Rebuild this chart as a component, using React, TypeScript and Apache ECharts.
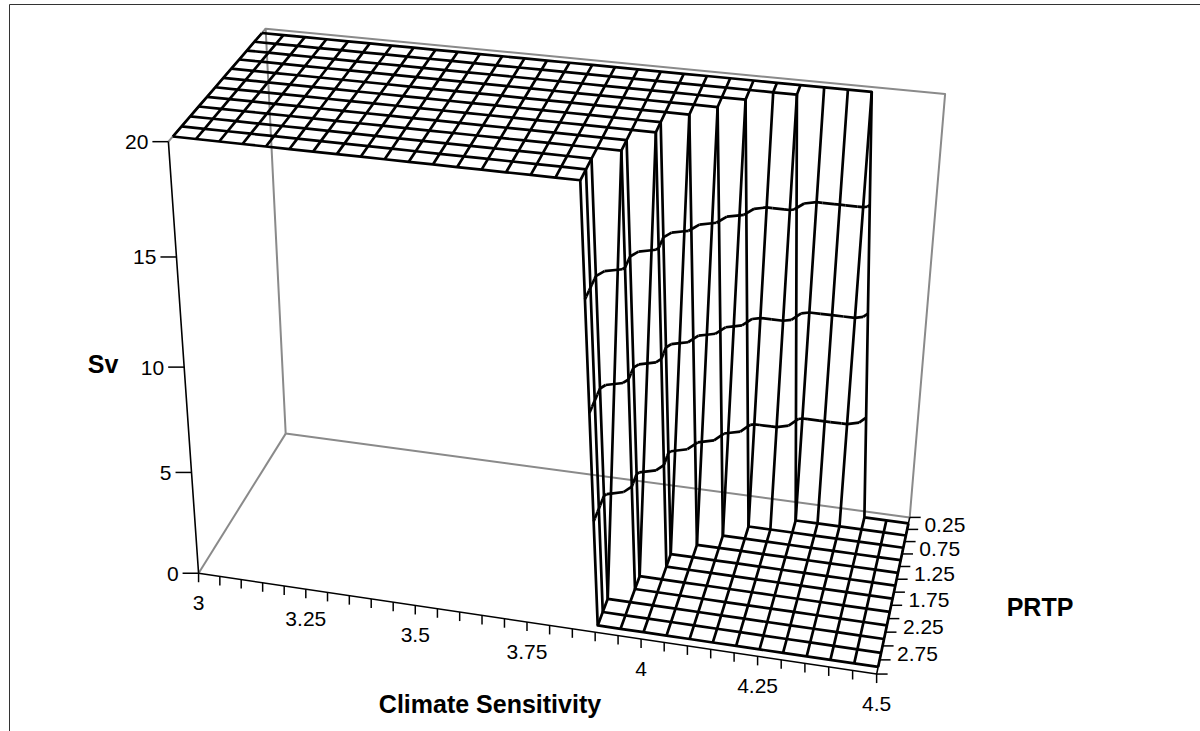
import { useEffect, useRef } from 'react';
import * as echarts from 'echarts';

type V3 = [number, number, number];

// Climate sensitivity categories (front axis)
const climateSensitivity = [
  3, 3.05, 3.1, 3.15, 3.2, 3.25, 3.3, 3.35, 3.4, 3.45,
  3.5, 3.55, 3.6, 3.65, 3.7, 3.75, 3.8, 3.85, 3.9, 3.95,
  4, 4.05, 4.1, 4.15, 4.2, 4.25, 4.3, 4.35, 4.4, 4.45, 4.5,
];
// PRTP series (depth axis), back to front
const prtp = [0.25, 0.5, 0.75, 1, 1.25, 1.5, 1.75, 2, 2.25, 2.5, 2.75, 3];

const svTicks = [0, 5, 10, 15, 20];
const csTickLabels = [3, 3.25, 3.5, 3.75, 4, 4.25, 4.5];
const prtpTickLabels = [0.25, 0.75, 1.25, 1.75, 2.25, 2.75];
const contourLevels = [5, 10, 15];

// Sv per PRTP row, one value per climate sensitivity
const svPrtp025 = [20, 20, 20, 20, 20, 20, 20, 20, 20, 20, 20, 20, 20, 20, 20, 20, 20, 20, 20, 20, 20, 20, 20, 20, 20, 20, 20, 20, 0, 0, 0];
const svPrtp050 = [20, 20, 20, 20, 20, 20, 20, 20, 20, 20, 20, 20, 20, 20, 20, 20, 20, 20, 20, 20, 20, 20, 20, 20, 20, 0, 0, 0, 0, 0, 0];
const svPrtp075 = [20, 20, 20, 20, 20, 20, 20, 20, 20, 20, 20, 20, 20, 20, 20, 20, 20, 20, 20, 20, 20, 20, 20, 0, 0, 0, 0, 0, 0, 0, 0];
const svPrtp100 = [20, 20, 20, 20, 20, 20, 20, 20, 20, 20, 20, 20, 20, 20, 20, 20, 20, 20, 20, 20, 20, 20, 0, 0, 0, 0, 0, 0, 0, 0, 0];
const svPrtp125 = [20, 20, 20, 20, 20, 20, 20, 20, 20, 20, 20, 20, 20, 20, 20, 20, 20, 20, 20, 20, 20, 0, 0, 0, 0, 0, 0, 0, 0, 0, 0];
const svPrtp150 = [20, 20, 20, 20, 20, 20, 20, 20, 20, 20, 20, 20, 20, 20, 20, 20, 20, 20, 20, 20, 0, 0, 0, 0, 0, 0, 0, 0, 0, 0, 0];
const svPrtp175 = [20, 20, 20, 20, 20, 20, 20, 20, 20, 20, 20, 20, 20, 20, 20, 20, 20, 20, 20, 20, 0, 0, 0, 0, 0, 0, 0, 0, 0, 0, 0];
const svPrtp200 = [20, 20, 20, 20, 20, 20, 20, 20, 20, 20, 20, 20, 20, 20, 20, 20, 20, 20, 20, 0, 0, 0, 0, 0, 0, 0, 0, 0, 0, 0, 0];
const svPrtp225 = [20, 20, 20, 20, 20, 20, 20, 20, 20, 20, 20, 20, 20, 20, 20, 20, 20, 20, 20, 0, 0, 0, 0, 0, 0, 0, 0, 0, 0, 0, 0];
const svPrtp250 = [20, 20, 20, 20, 20, 20, 20, 20, 20, 20, 20, 20, 20, 20, 20, 20, 20, 20, 0, 0, 0, 0, 0, 0, 0, 0, 0, 0, 0, 0, 0];
const svPrtp275 = [20, 20, 20, 20, 20, 20, 20, 20, 20, 20, 20, 20, 20, 20, 20, 20, 20, 20, 0, 0, 0, 0, 0, 0, 0, 0, 0, 0, 0, 0, 0];
const svPrtp300 = [20, 20, 20, 20, 20, 20, 20, 20, 20, 20, 20, 20, 20, 20, 20, 20, 20, 20, 0, 0, 0, 0, 0, 0, 0, 0, 0, 0, 0, 0, 0];

const svRows = [
  svPrtp025, svPrtp050, svPrtp075, svPrtp100, svPrtp125, svPrtp150,
  svPrtp175, svPrtp200, svPrtp225, svPrtp250, svPrtp275, svPrtp300,
];

const csMin = 3;
const csMax = 4.5;
const svMax = 20;

// where the unit box (x: sensitivity, y: depth front->back, z: Sv) lands on the page
const boxAnchors: [V3, [number, number]][] = [
  [[0, 0, 0], [198, 572]],
  [[1 / 6, 0, 0], [306, 590]],
  [[1 / 3, 0, 0], [415, 608]],
  [[0.5, 0, 0], [524, 627]],
  [[1, 0, 0], [877, 670]],
  [[0, 1, 0], [288, 432]],
  [[1, 1, 0], [910, 517]],
  [[0, 0, 1], [170, 140]],
  [[0, 1, 1], [262, 30]],
  [[1, 1, 1], [946, 95]],
  [[0, 0, 0.25], [191, 472]],
  [[0, 0, 0.5], [185, 366]],
  [[0, 0, 0.75], [178, 257]],
];

// least-squares perspective camera (3x4, last term fixed to 1)
function solveCamera(): number[] {
  const n = 11;
  const M = Array.from({ length: n }, () => new Array(n + 1).fill(0));
  const addRow = (a: number[], b: number) => {
    for (let i = 0; i < n; i++) {
      for (let j = 0; j < n; j++) M[i][j] += a[i] * a[j];
      M[i][n] += a[i] * b;
    }
  };
  boxAnchors.forEach(([[X, Y, Z], [u, v]]) => {
    addRow([X, Y, Z, 1, 0, 0, 0, 0, -u * X, -u * Y, -u * Z], u);
    addRow([0, 0, 0, 0, X, Y, Z, 1, -v * X, -v * Y, -v * Z], v);
  });
  for (let c = 0; c < n; c++) {
    let p = c;
    for (let r = c + 1; r < n; r++) if (Math.abs(M[r][c]) > Math.abs(M[p][c])) p = r;
    [M[c], M[p]] = [M[p], M[c]];
    for (let r = 0; r < n; r++) {
      if (r === c) continue;
      const f = M[r][c] / M[c][c];
      for (let k = c; k <= n; k++) M[r][k] -= f * M[c][k];
    }
  }
  return M.map((row, i) => row[n] / row[i]);
}

const cam = solveCamera();
const project = ([X, Y, Z]: V3): [number, number] => {
  const w = cam[8] * X + cam[9] * Y + cam[10] * Z + 1;
  return [
    (cam[0] * X + cam[1] * Y + cam[2] * Z + cam[3]) / w,
    (cam[4] * X + cam[5] * Y + cam[6] * Z + cam[7]) / w,
  ];
};

const csAt = (i: number) => {
  const k = Math.min(Math.floor(i), climateSensitivity.length - 2);
  const t = i - k;
  return climateSensitivity[k] + t * (climateSensitivity[k + 1] - climateSensitivity[k]);
};
const depthOf = (r: number) => 1 - (r + 0.5) / prtp.length;
const boxPoint = (i: number, r: number, sv: number): V3 => [
  (csAt(i) - csMin) / (csMax - csMin),
  depthOf(r),
  sv / svMax,
];

// wireframe mesh
const meshLines: V3[][] = [
  ...svRows.map((row, r) => row.map((v, i) => boxPoint(i, r, v))),
  ...climateSensitivity.map((_, i) => svRows.map((row, r) => boxPoint(i, r, row[i]))),
];

// band boundaries, each cell split in four triangles around its mean
function contourLines(): V3[][] {
  const out: V3[][] = [];
  for (let r = 0; r < svRows.length - 1; r++) {
    for (let i = 0; i < climateSensitivity.length - 1; i++) {
      const a = { i, r, v: svRows[r][i] };
      const b = { i: i + 1, r, v: svRows[r][i + 1] };
      const c = { i: i + 1, r: r + 1, v: svRows[r + 1][i + 1] };
      const d = { i, r: r + 1, v: svRows[r + 1][i] };
      if (a.v === b.v && b.v === c.v && c.v === d.v) continue;
      const m = { i: i + 0.5, r: r + 0.5, v: (a.v + b.v + c.v + d.v) / 4 };
      const tris = [[a, b, m], [b, c, m], [c, d, m], [d, a, m]];
      contourLevels.forEach((lv) => {
        tris.forEach((tri) => {
          const pts: V3[] = [];
          for (let e = 0; e < 3; e++) {
            const p = tri[e];
            const q = tri[(e + 1) % 3];
            if ((p.v >= lv) !== (q.v >= lv)) {
              const t = (lv - p.v) / (q.v - p.v);
              pts.push(boxPoint(p.i + t * (q.i - p.i), p.r + t * (q.r - p.r), lv));
            }
          }
          if (pts.length === 2) {
            const dd = Math.abs(pts[0][0] - pts[1][0]) + Math.abs(pts[0][1] - pts[1][1]);
            if (dd > 1e-9) out.push(pts);
          }
        });
      });
    }
  }
  return out;
}

const frameLines: V3[][] = [
  [[0, 1, 0], [1, 1, 0], [1, 1, 1], [0, 1, 1], [0, 1, 0]],
  [[0, 0, 0], [0, 1, 0]],
  [[0, 0, 1], [0, 1, 1]],
];
const axisLines: V3[][] = [[[0, 0, 1], [0, 0, 0], [1, 0, 0], [1, 1, 0]]];

type Tick = { at: V3; dx: number; dy: number };
const ticks: Tick[] = [
  ...svTicks.map((v) => ({ at: [0, 0, v / svMax] as V3, dx: -16, dy: 0 })),
  ...climateSensitivity.map((c) => ({ at: [(c - csMin) / (csMax - csMin), 0, 0] as V3, dx: 0, dy: 9 })),
  ...Array.from({ length: prtp.length + 1 }, (_, k) => ({ at: [1, 1 - k / prtp.length, 0] as V3, dx: 11, dy: 0 })),
];

type Label = { at: V3; dx: number; dy: number; text: string; align: string };
const labels: Label[] = [
  ...svTicks.map((v) => ({ at: [0, 0, v / svMax] as V3, dx: -20, dy: 0, text: String(v), align: 'right' })),
  ...csTickLabels.map((c) => ({ at: [(c - csMin) / (csMax - csMin), 0, 0] as V3, dx: 0, dy: 29, text: String(c), align: 'center' })),
  ...prtpTickLabels.map((p) => ({ at: [1, depthOf(prtp.indexOf(p)), 0] as V3, dx: 16, dy: 1, text: String(p), align: 'left' })),
];

const font = "'Liberation Sans', Arial, Helvetica, sans-serif";

function lineSeries(lines: V3[][], stroke: string, width: number, z: number) {
  return {
    type: 'custom',
    coordinateSystem: 'cartesian2d',
    silent: true,
    clip: false,
    z,
    data: lines.map((_, k) => [k, 0]),
    renderItem: (params: any, api: any) => ({
      type: 'polyline',
      shape: { points: lines[params.dataIndex].map((p) => api.coord(project(p))) },
      style: { stroke, lineWidth: width, fill: null, lineJoin: 'round' },
    }),
  };
}

export default function App() {
  const chartRef = useRef<HTMLDivElement>(null);

  useEffect(() => {
    if (!chartRef.current) return;
    const chart = echarts.init(chartRef.current, undefined, { renderer: 'svg' });

    const option = {
      animation: false,
      backgroundColor: '#fff',
      grid: { left: 0, right: 0, top: 0, bottom: 0 },
      xAxis: { type: 'value', min: 0, max: 1200, show: false },
      yAxis: { type: 'value', min: 0, max: 731, inverse: true, show: false },
      graphic: [
        {
          type: 'rect',
          shape: { x: 9.5, y: 4.5, width: 1300, height: 900 },
          style: { stroke: '#333', fill: null, lineWidth: 1 },
          silent: true,
        },
        {
          type: 'text', x: 103, y: 364,
          style: { text: 'Sv', font: `bold 25px ${font}`, fill: '#000', align: 'center', verticalAlign: 'middle' },
        },
        {
          type: 'text', x: 490, y: 704,
          style: { text: 'Climate Sensitivity', font: `bold 25px ${font}`, fill: '#000', align: 'center', verticalAlign: 'middle' },
        },
        {
          type: 'text', x: 1040, y: 607,
          style: { text: 'PRTP', font: `bold 25px ${font}`, fill: '#000', align: 'center', verticalAlign: 'middle' },
        },
      ],
      series: [
        lineSeries(frameLines, '#8a8a8a', 2, 1),
        lineSeries(meshLines, '#000', 2.7, 2),
        lineSeries(contourLines(), '#000', 2.7, 2),
        lineSeries(axisLines, '#000', 1.6, 3),
        {
          type: 'custom',
          coordinateSystem: 'cartesian2d',
          silent: true,
          clip: false,
          z: 3,
          data: ticks.map((_, k) => [k, 0]),
          renderItem: (params: any, api: any) => {
            const t = ticks[params.dataIndex];
            const [x, y] = api.coord(project(t.at));
            return {
              type: 'line',
              shape: { x1: x, y1: y, x2: x + t.dx, y2: y + t.dy },
              style: { stroke: '#000', lineWidth: 1.5 },
            };
          },
        },
        {
          type: 'custom',
          coordinateSystem: 'cartesian2d',
          silent: true,
          clip: false,
          z: 4,
          data: labels.map((_, k) => [k, 0]),
          renderItem: (params: any, api: any) => {
            const l = labels[params.dataIndex];
            const [x, y] = api.coord(project(l.at));
            return {
              type: 'text',
              x: x + l.dx,
              y: y + l.dy,
              style: { text: l.text, font: `21px ${font}`, fill: '#000', align: l.align, verticalAlign: 'middle' },
            };
          },
        },
      ],
    };

    chart.setOption(option);
    return () => chart.dispose();
  }, []);

  return <div ref={chartRef} style={{ position: 'absolute', left: 0, top: 0, width: 1200, height: 731 }} />;
}
